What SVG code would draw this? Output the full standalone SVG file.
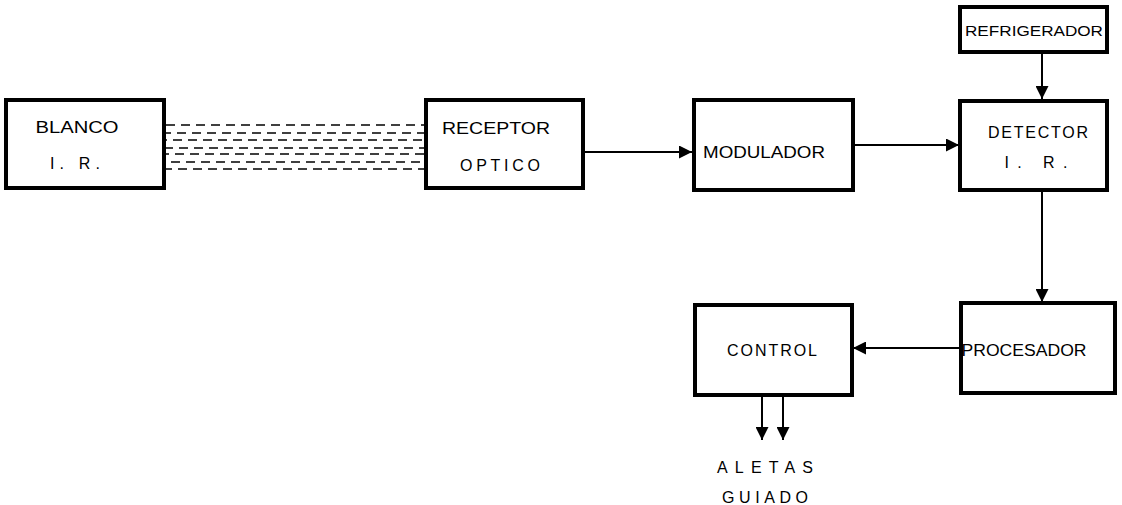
<svg xmlns="http://www.w3.org/2000/svg" width="1122" height="505" viewBox="0 0 1122 505">
<defs>
<style>
.box{fill:#fff;stroke:#000;stroke-width:4}
.t{font-family:"Liberation Sans",Arial,sans-serif;font-size:16px;fill:#000;text-anchor:middle}
.s{font-size:14px}
.c{stroke:#000;stroke-width:2;fill:none}
.d{stroke:#000;stroke-width:1.6;fill:none;stroke-dasharray:9 6}
</style>
<marker id="ah" viewBox="0 0 10 10" refX="10" refY="5" markerWidth="15" markerHeight="13" markerUnits="userSpaceOnUse" orient="auto">
<path d="M0,0 L10,5 L0,10 z" fill="#000"/>
</marker>
</defs>
<rect width="1122" height="505" fill="#fff"/>
<g id="connectors">
<path class="d" d="M166,125 H425"/>
<path class="d" d="M166,133 H425" stroke-dashoffset="4"/>
<path class="d" d="M166,140 H425" stroke-dashoffset="8"/>
<path class="d" d="M166,148 H425" stroke-dashoffset="2"/>
<path class="d" d="M166,154 H425" stroke-dashoffset="6"/>
<path class="d" d="M166,162 H425" stroke-dashoffset="10"/>
<path class="d" d="M166,169 H425" stroke-dashoffset="3"/>
<path class="c" d="M583,152 H692" marker-end="url(#ah)"/>
<path class="c" d="M853,145 H959" marker-end="url(#ah)"/>
<path class="c" d="M1042,52 V99" marker-end="url(#ah)"/>
<path class="c" d="M1042,190 V302" marker-end="url(#ah)"/>
<path class="c" d="M960,348 H853" marker-end="url(#ah)"/>
<path class="c" d="M762,395 V440" marker-end="url(#ah)"/>
<path class="c" d="M783,395 V440" marker-end="url(#ah)"/>
</g>
<g id="blanco">
<rect class="box" x="6" y="100" width="158" height="88"/>
<text class="t" x="77" y="133" textLength="83" lengthAdjust="spacingAndGlyphs">BLANCO</text>
<text class="t" x="75" y="169" textLength="50" lengthAdjust="spacing">I. R.</text>
</g>
<g id="receptor">
<rect class="box" x="426" y="100" width="157" height="88"/>
<text class="t" x="496" y="134" textLength="108" lengthAdjust="spacingAndGlyphs">RECEPTOR</text>
<text class="t" x="500" y="171" textLength="80" lengthAdjust="spacing">OPTICO</text>
</g>
<g id="modulador">
<rect class="box" x="694" y="100" width="159" height="90"/>
<text class="t" x="764" y="158" textLength="122" lengthAdjust="spacingAndGlyphs">MODULADOR</text>
</g>
<g id="refrigerador">
<rect class="box" x="960" y="7" width="147" height="45"/>
<text class="t s" x="1034" y="36" textLength="138" lengthAdjust="spacingAndGlyphs">REFRIGERADOR</text>
</g>
<g id="detector">
<rect class="box" x="960" y="101" width="147" height="89"/>
<text class="t" x="1038" y="138" textLength="100" lengthAdjust="spacing">DETECTOR</text>
<text class="t" x="1036" y="168" textLength="63" lengthAdjust="spacing">I. R.</text>
</g>
<g id="procesador">
<rect class="box" x="961" y="303" width="154" height="90"/>
<text class="t" x="1024" y="356" textLength="125" lengthAdjust="spacingAndGlyphs">PROCESADOR</text>
</g>
<g id="control">
<rect class="box" x="695" y="305" width="157" height="90"/>
<text class="t" x="772" y="356" textLength="90" lengthAdjust="spacing">CONTROL</text>
</g>
<g id="aletas">
<text class="t" x="765" y="473" textLength="96" lengthAdjust="spacing">ALETAS</text>
<text class="t" x="765" y="503" textLength="86" lengthAdjust="spacing">GUIADO</text>
</g>
</svg>
